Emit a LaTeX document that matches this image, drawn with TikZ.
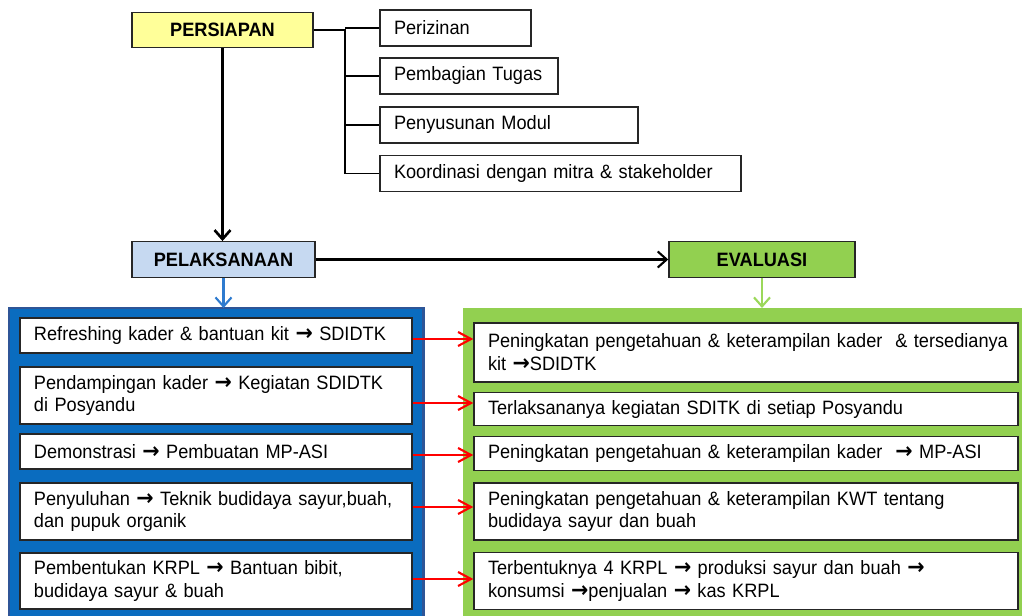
\documentclass[tikz,border=0pt]{standalone}
\usepackage{fontspec}
\setmainfont{Liberation Sans}[FakeStretch=0.94,WordSpace=0.7]
\newfontfamily\arrowfont{DejaVu Sans}[FakeStretch=0.94]
\usepackage{tikz}
\usetikzlibrary{arrows.meta}
\definecolor{persiapanfill}{HTML}{FFFF99}
\definecolor{pelaksanaanfill}{HTML}{C6D9F1}
\definecolor{evaluasifill}{HTML}{92D050}
\definecolor{panelblue}{HTML}{0A6CBF}
\definecolor{panelborder}{HTML}{2F5597}
\definecolor{arrowblue}{HTML}{2E7BCF}
\definecolor{arrowgreen}{HTML}{9BD85A}
\newcommand{\pointto}{{\arrowfont\bfseries\fontsize{12.5}{13}\selectfont →}}
\tikzset{
	box/.style={
		rectangle,
		draw=black!85,
		line width=.8pt,
		fill=white,
		font=\fontsize{11}{13}\selectfont,
		inner xsep=2.8mm,
		inner ysep=0,
	},
	heading/.style={
		box,
		font=\fontsize{11}{13}\selectfont\bfseries,
		minimum height=7.1mm,
	},
	task/.style={
		box,
		align=left,
		minimum height=7.2mm,
	},
	activity/.style={
		box,
		align=left,
		text width=72.8mm,
	},
	result/.style={
		box,
		align=left,
		text width=103.2mm,
	},
	panel/.style={
		rectangle,
		inner sep=0,
		outer sep=0,
	},
	flow/.style={
		line width=1.2pt,
		-{Straight Barb[length=1.8mm,width=3.2mm]},
	},
	link/.style={
		red,
		line width=1.2pt,
		-{Straight Barb[length=2.6mm,width=2.8mm]},
	},
}

\begin{document}
\hyphenpenalty=10000
\begin{tikzpicture}[x=0.2mm,y=-0.2mm]
	\useasboundingbox (0,0) rectangle (1022,616);
	
	\node[panel, fill=panelblue, draw=panelborder, line width=1.7pt, minimum width=82.8mm, minimum height=62.4mm] (blue) at (216,464) {};
	\node[panel, fill=evaluasifill, minimum width=113.4mm, minimum height=62.4mm] (green) at (746.5,464) {};
	
	\node[heading, fill=persiapanfill, minimum width=36.2mm] (persiapan) at (222.5,30) {PERSIAPAN};
	\node[heading, fill=pelaksanaanfill, minimum width=36.6mm] (pelaksanaan) at (223.5,259.5) {PELAKSANAAN};
	\node[heading, fill=evaluasifill, minimum width=37.2mm] (evaluasi) at (762,259.5) {EVALUASI};
	
	\node[task, text width=24.6mm] (perizinan) at (455.5,28) {Perizinan};
	\node[task, text width=30mm] (pembagian) at (469,76) {Pembagian Tugas};
	\node[task, text width=46mm] (penyusunan) at (509,125) {Penyusunan Modul};
	\node[task, text width=66.6mm] (koordinasi) at (560.5,173.5) {Koordinasi dengan mitra \& stakeholder};
	
	\node[activity, minimum height=7mm] (l1) at (216,335.5) {Refreshing kader \& bantuan kit \pointto{} SDIDTK};
	\node[activity, minimum height=11.4mm] (l2) at (216,395.5) {Pendampingan kader \pointto{} Kegiatan SDIDTK\\di Posyandu};
	\node[activity, minimum height=7mm] (l3) at (216,451.5) {Demonstrasi \pointto{} Pembuatan MP-ASI};
	\node[activity, minimum height=11.4mm] (l4) at (216,511.5) {Penyuluhan \pointto{} Teknik budidaya sayur,buah,\\dan pupuk organik};
	\node[activity, minimum height=11.2mm] (l5) at (216,581) {Pembentukan KRPL \pointto{} Bantuan bibit,\\budidaya sayur \& buah};
	
	\node[result, minimum height=11.8mm] (r1) at (746,352.5) {\mbox{Peningkatan pengetahuan \& keterampilan kader \ \& tersedianya}\\kit \pointto SDIDTK};
	\node[result, minimum height=6.6mm] (r2) at (746,409) {Terlaksananya kegiatan SDITK di setiap Posyandu};
	\node[result, minimum height=6.8mm] (r3) at (746,453.5) {Peningkatan pengetahuan \& keterampilan kader \ \pointto{} MP-ASI};
	\node[result, minimum height=11.4mm] (r4) at (746,511.5) {Peningkatan pengetahuan \& keterampilan KWT tentang\\budidaya sayur dan buah};
	\node[result, minimum height=11.4mm] (r5) at (746,581) {Terbentuknya 4 KRPL \pointto{} produksi sayur dan buah \pointto\\konsumsi \pointto penjualan \pointto{} kas KRPL};
	
	\coordinate (bus) at (345,0);
	\draw[line width=.8pt] (persiapan.east) -- (bus |- persiapan.east) -- (bus |- koordinasi.west) -- (koordinasi.west);
	\foreach \n in {perizinan,pembagian,penyusunan}
		\draw[line width=.8pt] (bus |- \n.west) -- (\n.west);
	
	\draw[flow, line width=1.5pt] (persiapan) -- (persiapan |- pelaksanaan.north);
	\draw[flow] (pelaksanaan) -- (evaluasi);
	\draw[flow, arrowblue] (pelaksanaan) -- (pelaksanaan |- blue.north);
	\draw[flow, arrowgreen] (evaluasi) -- (evaluasi |- green.north);
	
	\foreach \i/\dy in {1/-0.7,2/-1.5,3/-0.7,4/0.9,5/0.4}
		\draw[link] ([yshift=\dy mm]l\i.east) -- ([yshift=\dy mm]l\i.east -| r\i.west);
	
\end{tikzpicture}
\end{document}
